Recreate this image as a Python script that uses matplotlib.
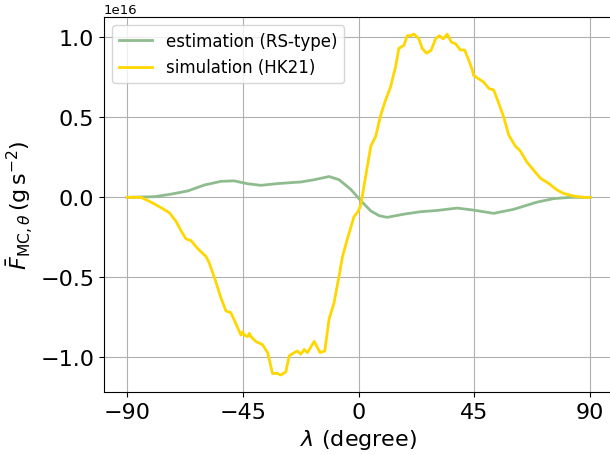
import numpy as np
import matplotlib
matplotlib.use("Agg")
import matplotlib.pyplot as plt

# estimation (RS-type), values in 1e16 g s^-2
est_lat = [-90, -79.4, -72.9, -66.4, -60, -53.5, -48.4, -43.2, -38, -31.5, -22.5,
           -17.3, -11.5, -7.6, -3.1, 0.8, 4.7, 8, 11.1, 17.6, 24, 30.5, 38.3,
           44.7, 52.5, 60.2, 69.3, 75.8, 82.2, 90]
est_val = [0, 0.004, 0.02, 0.04, 0.077, 0.10, 0.103, 0.085, 0.075, 0.086, 0.096,
           0.11, 0.13, 0.11, 0.05, -0.02, -0.085, -0.115, -0.125, -0.105, -0.09,
           -0.082, -0.067, -0.08, -0.10, -0.075, -0.03, -0.008, 0, 0]

# simulation (HK21)
sim_lat = [-90, -84.6, -80.7, -76.8, -73.6, -71, -69, -67.1, -65.2, -62.6, -59.3,
           -58.1, -56.1, -53.5, -51.6, -49.7, -47.7, -45.8, -45.1, -44.5, -43.2,
           -42.5, -41.9, -40, -37.4, -35.4, -33.5, -31.5, -30.3, -28.3, -27,
           -25.1, -23.8, -22.5, -21.2, -19.9, -17.3, -15, -13.2, -11.5, -9.6,
           -7.6, -6.3, -4.4, -1.8, -0.3, 0.8, 2.7, 4.7, 6.6, 8.5, 10.5, 12.4,
           14.4, 15.6, 17.6, 18.9, 20.2, 21.5, 23.4, 24.7, 26.4, 28.2, 29.9,
           31.4, 32.9, 34.4, 36, 37.6, 39.6, 41.2, 43.2, 44.1, 44.7, 46.7, 48.6,
           50.6, 52.5, 54.4, 56.4, 58.3, 60.9, 62.8, 65.4, 68, 70.6, 73.8, 77.1,
           79.6, 83.5, 87.4, 90]
sim_val = [0, 0, -0.03, -0.065, -0.096, -0.15, -0.21, -0.26, -0.27, -0.32, -0.37,
           -0.41, -0.50, -0.63, -0.71, -0.72, -0.79, -0.86, -0.84, -0.86, -0.87,
           -0.85, -0.87, -0.90, -0.92, -0.97, -1.10, -1.10, -1.11, -1.09, -0.99,
           -0.97, -0.96, -0.98, -0.95, -0.97, -0.90, -0.97, -0.96, -0.76, -0.66,
           -0.49, -0.37, -0.26, -0.12, -0.09, -0.05, 0.13, 0.32, 0.38, 0.51,
           0.61, 0.69, 0.82, 0.93, 0.95, 1.01, 1.01, 1.02, 0.99, 0.93, 0.90,
           0.92, 0.99, 1.01, 0.99, 1.02, 0.97, 0.96, 0.92, 0.92, 0.84, 0.80,
           0.76, 0.74, 0.72, 0.68, 0.67, 0.59, 0.50, 0.39, 0.32, 0.29, 0.22,
           0.17, 0.12, 0.088, 0.046, 0.025, 0.008, 0, 0]

xticks = [-90, -45, 0, 45, 90]
scale = 1e16

fig = plt.figure(figsize=(6.1, 4.56), dpi=100)
ax = fig.add_axes([0.1705, 0.138, 0.835, 0.8225])

ax.plot(est_lat, np.array(est_val) * scale, color="darkseagreen", lw=2,
        label="estimation (RS-type)")
ax.plot(sim_lat, np.array(sim_val) * scale, color="gold", lw=2,
        label="simulation (HK21)")

ax.set_xticks(xticks)
ax.tick_params(labelsize=16)
ax.yaxis.get_offset_text().set_fontsize(9.5)
ax.grid(True)
ax.set_xlabel(r"$\lambda$ (degree)", fontsize=16)
ax.set_ylabel(r"$\bar{F}_{\mathrm{MC},\theta}\,(\mathrm{g\,s^{-2}})$", fontsize=16)
ax.legend(loc="upper left", fontsize=12)

fig.savefig("out.png", dpi=100)
